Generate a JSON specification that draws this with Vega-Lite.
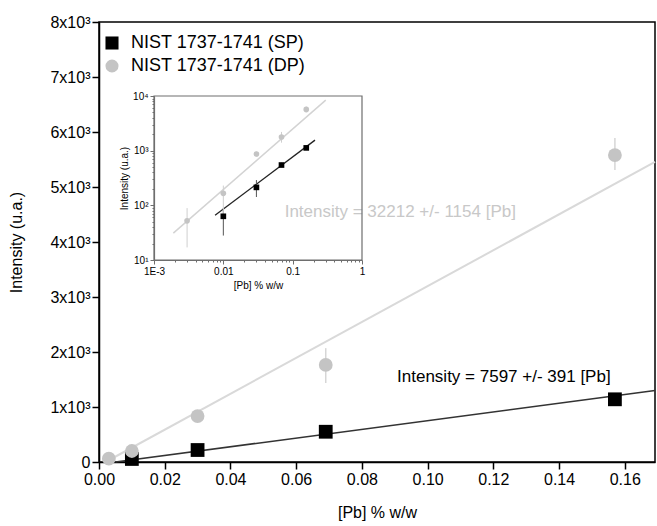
{
  "$schema": "https://vega.github.io/schema/vega-lite/v6.json",
  "width": 556,
  "height": 440,
  "autosize": {"type": "none"},
  "padding": {"left": 99, "top": 22, "right": 2, "bottom": 64},
  "background": "white",
  "config": {
    "font": "Liberation Sans",
    "view": {"stroke": "black", "strokeWidth": 1.5},
    "axis": {
      "grid": false,
      "labelFlush": false,
      "labelOverlap": false,
      "domainColor": "black",
      "domainWidth": 1.5,
      "tickColor": "black",
      "tickWidth": 1.5,
      "labelColor": "black",
      "titleColor": "black",
      "labelFont": "Liberation Sans",
      "titleFont": "Liberation Sans",
      "titleFontWeight": "normal"
    }
  },
  "datasets": {
    "main": [
      {"x": 0.01, "y": 55, "lo": 55, "hi": 55, "series": "NIST 1737-1741 (SP)"},
      {"x": 0.03, "y": 218, "lo": 218, "hi": 218, "series": "NIST 1737-1741 (SP)"},
      {"x": 0.069, "y": 550, "lo": 550, "hi": 550, "series": "NIST 1737-1741 (SP)"},
      {"x": 0.157, "y": 1140, "lo": 1140, "hi": 1140, "series": "NIST 1737-1741 (SP)"},
      {"x": 0.003, "y": 60, "lo": 20, "hi": 100, "series": "NIST 1737-1741 (DP)"},
      {"x": 0.01, "y": 200, "lo": 100, "hi": 300, "series": "NIST 1737-1741 (DP)"},
      {"x": 0.03, "y": 836, "lo": 760, "hi": 940, "series": "NIST 1737-1741 (DP)"},
      {"x": 0.069, "y": 1764, "lo": 1436, "hi": 2070, "series": "NIST 1737-1741 (DP)"},
      {"x": 0.157, "y": 5580, "lo": 5310, "hi": 5890, "series": "NIST 1737-1741 (DP)"}
    ],
    "fits": [
      {"x": 0.005, "y": 0, "fit": "SP"},
      {"x": 0.1692, "y": 1300, "fit": "SP"},
      {"x": 0.002, "y": 0, "fit": "DP"},
      {"x": 0.1692, "y": 5455, "fit": "DP"}
    ],
    "notes": [
      {"x": 0.0565, "y": 4545, "text": "Intensity = 32212 +/- 1154 [Pb]", "fit": "DP"},
      {"x": 0.0907, "y": 1545, "text": "Intensity = 7597 +/- 391 [Pb]", "fit": "SP"}
    ],
    "inset": [
      {"x": 0.01, "y": 63, "lo": 28, "hi": 89, "series": "NIST 1737-1741 (SP)"},
      {"x": 0.03, "y": 213, "lo": 142, "hi": 290, "series": "NIST 1737-1741 (SP)"},
      {"x": 0.069, "y": 546, "lo": 500, "hi": 600, "series": "NIST 1737-1741 (SP)"},
      {"x": 0.157, "y": 1124, "lo": 1050, "hi": 1200, "series": "NIST 1737-1741 (SP)"},
      {"x": 0.003, "y": 52, "lo": 17, "hi": 89, "series": "NIST 1737-1741 (DP)"},
      {"x": 0.01, "y": 166, "lo": 60, "hi": 230, "series": "NIST 1737-1741 (DP)"},
      {"x": 0.03, "y": 870, "lo": 780, "hi": 960, "series": "NIST 1737-1741 (DP)"},
      {"x": 0.069, "y": 1780, "lo": 1400, "hi": 2200, "series": "NIST 1737-1741 (DP)"},
      {"x": 0.157, "y": 5690, "lo": 5000, "hi": 6400, "series": "NIST 1737-1741 (DP)"}
    ],
    "insetfits": [
      {"x": 0.0076, "y": 66, "fit": "SP"},
      {"x": 0.21, "y": 1560, "fit": "SP"},
      {"x": 0.0019, "y": 31, "fit": "DP"},
      {"x": 0.3, "y": 8400, "fit": "DP"}
    ],
    "frame": [{"x1": 0.001, "x2": 1, "y1": 10, "y2": 10000}]
  },
  "layer": [
    {
      "layer": [
        {
          "data": {"name": "fits"},
          "transform": [{"filter": "datum.fit == 'DP'"}],
          "mark": {"type": "line", "color": "#d9d9d9", "strokeWidth": 2},
          "encoding": {
            "x": {"field": "x", "type": "quantitative", "scale": {"domain": [0, 0.1692], "nice": false, "zero": false},
              "axis": {"orient": "bottom", "title": "[Pb] % w/w", "titleFontSize": 16, "labelFontSize": 16, "titlePadding": 17,
                "values": [0, 0.01, 0.02, 0.03, 0.04, 0.05, 0.06, 0.07, 0.08, 0.09, 0.1, 0.11, 0.12, 0.13, 0.14, 0.15, 0.16],
                "labelExpr": "round(datum.value*100) % 2 == 0 ? format(datum.value, '.2f') : ''",
                "tickSize": {"condition": {"test": "round(datum.value*100) % 2 != 0", "value": 4}, "value": 7},
                "labelPadding": 2}},
            "y": {"field": "y", "type": "quantitative", "scale": {"domain": [0, 8000], "nice": false},
              "axis": {"orient": "left", "title": "Intensity (u.a.)", "titleFontSize": 16, "labelFontSize": 16, "titlePadding": 25,
                "values": [0, 500, 1000, 1500, 2000, 2500, 3000, 3500, 4000, 4500, 5000, 5500, 6000, 6500, 7000, 7500, 8000],
                "labelExpr": "datum.value % 1000 != 0 ? '' : (datum.value == 0 ? '0' : (datum.value/1000) + 'x10³')",
                "tickSize": {"condition": {"test": "datum.value % 1000 != 0", "value": 4}, "value": 7},
                "labelPadding": 2}}
          }
        },
        {
          "data": {"name": "fits"},
          "transform": [{"filter": "datum.fit == 'SP'"}],
          "mark": {"type": "line", "color": "#333333", "strokeWidth": 1.5},
          "encoding": {
            "x": {"field": "x", "type": "quantitative"},
            "y": {"field": "y", "type": "quantitative"}
          }
        },
        {
          "data": {"name": "main"},
          "transform": [{"filter": "datum.hi > datum.lo"}],
          "mark": {"type": "rule", "color": "#d6d6d6", "strokeWidth": 1.5},
          "encoding": {
            "x": {"field": "x", "type": "quantitative"},
            "y": {"field": "lo", "type": "quantitative"},
            "y2": {"field": "hi"}
          }
        },
        {
          "data": {"name": "main"},
          "mark": {"type": "point", "filled": true, "opacity": 1, "size": 190},
          "encoding": {
            "x": {"field": "x", "type": "quantitative"},
            "y": {"field": "y", "type": "quantitative"},
            "color": {"field": "series", "type": "nominal",
              "scale": {"domain": ["NIST 1737-1741 (SP)", "NIST 1737-1741 (DP)"], "range": ["#000000", "#c4c4c4"]},
              "legend": {"orient": "none", "legendX": 4, "legendY": 12, "title": null, "labelFontSize": 18, "labelColor": "black",
                "labelLimit": 400, "symbolSize": 170, "labelOffset": 10, "rowPadding": 5, "symbolStrokeWidth": 0, "labelFont": "Liberation Sans"}},
            "shape": {"field": "series", "type": "nominal",
              "scale": {"domain": ["NIST 1737-1741 (SP)", "NIST 1737-1741 (DP)"], "range": ["square", "circle"]}}
          }
        },
        {
          "data": {"name": "notes"},
          "mark": {"type": "text", "align": "left", "baseline": "middle", "fontSize": 17, "font": "Liberation Sans"},
          "encoding": {
            "x": {"field": "x", "type": "quantitative"},
            "y": {"field": "y", "type": "quantitative"},
            "text": {"field": "text"},
            "color": {"condition": {"test": "datum.fit == 'DP'", "value": "#c8c8c8"}, "value": "#000000"}
          }
        }
      ]
    },
    {
      "layer": [
        {
          "data": {"name": "frame"},
          "mark": {"type": "rect", "fill": null, "fillOpacity": 0, "stroke": "#6e6e6e", "strokeWidth": 1.2},
          "encoding": {
            "x": {"field": "x1", "type": "quantitative",
              "scale": {"type": "log", "domain": [0.001, 1], "range": [55, 263], "nice": false},
              "axis": {"orient": "bottom", "offset": -202, "title": "[Pb] % w/w", "titleFontSize": 10, "labelFontSize": 10,
                "titlePadding": 4, "labelPadding": 2, "domainColor": "#6e6e6e", "domainWidth": 1.2, "tickColor": "#6e6e6e", "tickWidth": 1,
                "values": [0.001, 0.002, 0.003, 0.004, 0.005, 0.006, 0.007, 0.008, 0.009, 0.01, 0.02, 0.03, 0.04, 0.05, 0.06, 0.07, 0.08, 0.09, 0.1, 0.2, 0.3, 0.4, 0.5, 0.6, 0.7, 0.8, 0.9, 1],
                "labelExpr": "datum.value == 0.001 ? '1E-3' : (datum.value == 0.01 ? '0.01' : (datum.value == 0.1 ? '0.1' : (datum.value == 1 ? '1' : '')))",
                "tickSize": {"condition": {"test": "datum.value == 0.001 || datum.value == 0.01 || datum.value == 0.1 || datum.value == 1", "value": 4}, "value": 2}}},
            "x2": {"field": "x2"},
            "y": {"field": "y1", "type": "quantitative",
              "scale": {"type": "log", "domain": [10, 10000], "range": [238, 74], "nice": false},
              "axis": {"orient": "left", "offset": -55, "title": "Intensity (u.a.)", "titleFontSize": 10, "labelFontSize": 10,
                "titlePadding": 3, "labelPadding": 2, "domainColor": "#6e6e6e", "domainWidth": 1.2, "tickColor": "#6e6e6e", "tickWidth": 1,
                "values": [10, 20, 30, 40, 50, 60, 70, 80, 90, 100, 200, 300, 400, 500, 600, 700, 800, 900, 1000, 2000, 3000, 4000, 5000, 6000, 7000, 8000, 9000, 10000],
                "labelExpr": "datum.value == 10 ? '10¹' : (datum.value == 100 ? '10²' : (datum.value == 1000 ? '10³' : (datum.value == 10000 ? '10⁴' : '')))",
                "tickSize": {"condition": {"test": "datum.value == 10 || datum.value == 100 || datum.value == 1000 || datum.value == 10000", "value": 4}, "value": 2}}},
            "y2": {"field": "y2"}
          }
        },
        {
          "data": {"name": "insetfits"},
          "transform": [{"filter": "datum.fit == 'DP'"}],
          "mark": {"type": "line", "color": "#d3d3d3", "strokeWidth": 1.5},
          "encoding": {
            "x": {"field": "x", "type": "quantitative"},
            "y": {"field": "y", "type": "quantitative"}
          }
        },
        {
          "data": {"name": "insetfits"},
          "transform": [{"filter": "datum.fit == 'SP'"}],
          "mark": {"type": "line", "color": "#222222", "strokeWidth": 1.3},
          "encoding": {
            "x": {"field": "x", "type": "quantitative"},
            "y": {"field": "y", "type": "quantitative"}
          }
        },
        {
          "data": {"name": "inset"},
          "mark": {"type": "rule", "strokeWidth": 1},
          "encoding": {
            "x": {"field": "x", "type": "quantitative"},
            "y": {"field": "lo", "type": "quantitative"},
            "y2": {"field": "hi"},
            "color": {"condition": {"test": "datum.series == 'NIST 1737-1741 (DP)'", "value": "#cfcfcf"}, "value": "#555555"}
          }
        },
        {
          "data": {"name": "inset"},
          "mark": {"type": "point", "filled": true, "opacity": 1, "size": 32},
          "encoding": {
            "x": {"field": "x", "type": "quantitative"},
            "y": {"field": "y", "type": "quantitative"},
            "color": {"field": "series", "type": "nominal"},
            "shape": {"field": "series", "type": "nominal"}
          }
        }
      ]
    }
  ],
  "resolve": {"scale": {"x": "independent", "y": "independent"}, "axis": {"x": "independent", "y": "independent"}}
}
